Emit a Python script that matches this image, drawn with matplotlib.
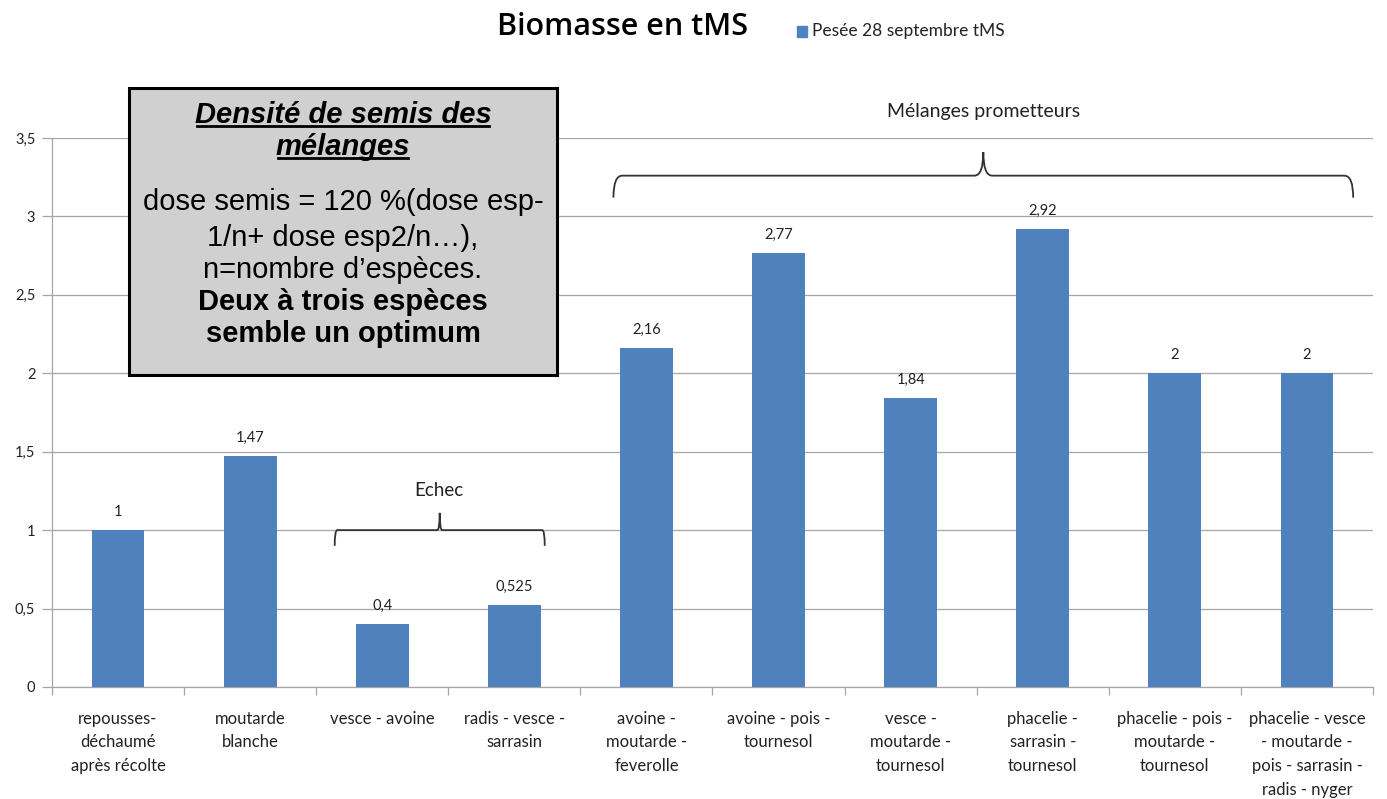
import matplotlib
matplotlib.use("Agg")
import matplotlib.pyplot as plt
from matplotlib.path import Path
from matplotlib.patches import PathPatch, Rectangle
import numpy as np

categories = [
    "repousses-\ndéchaumé\naprès récolte",
    "moutarde\nblanche",
    "vesce - avoine",
    "radis - vesce -\nsarrasin",
    "avoine -\nmoutarde -\nfeverolle",
    "avoine - pois -\ntournesol",
    "vesce -\nmoutarde -\ntournesol",
    "phacelie -\nsarrasin -\ntournesol",
    "phacelie - pois -\nmoutarde -\ntournesol",
    "phacelie - vesce\n- moutarde -\npois - sarrasin -\nradis - nyger",
]
values = [1.0, 1.47, 0.4, 0.525, 2.16, 2.77, 1.84, 2.92, 2.0, 2.0]
value_labels = ["1", "1,47", "0,4", "0,525", "2,16", "2,77", "1,84", "2,92", "2", "2"]
yticks = [0, 0.5, 1, 1.5, 2, 2.5, 3, 3.5]
ytick_labels = ["0", "0,5", "1", "1,5", "2", "2,5", "3", "3,5"]
series_name = "Pesée 28 septembre tMS"
title = "Biomasse en tMS"

BAR = "#4F81BD"
GRID = "#A6A6A6"
LBL = "Lato"

fig = plt.figure(figsize=(13.87, 7.99), dpi=100)
ax = fig.add_axes([52 / 1387, 112 / 799, 1321 / 1387, 549 / 799])

x = np.arange(len(values))
ax.bar(x, values, width=0.4, color=BAR, zorder=3)
ax.set_xlim(-0.5, len(values) - 0.5)
ax.set_ylim(0, 3.5)

ax.set_yticks(yticks)
ax.set_yticklabels(ytick_labels, fontsize=10.5, family=LBL, color="#222222")
ax.yaxis.grid(True, color=GRID, linewidth=0.9, zorder=0)
ax.tick_params(axis="y", length=7, width=0.9, color=GRID, pad=5)

ax.set_xticks(x)
ax.set_xticklabels(categories, fontsize=12, family=LBL, color="#222222", linespacing=1.6)
ax.tick_params(axis="x", length=0, pad=17)
ax.set_xticks(np.arange(-0.5, len(values)), minor=True)
ax.tick_params(axis="x", which="minor", length=6, width=0.9, color=GRID)

for s in ["top", "right"]:
    ax.spines[s].set_visible(False)
for s in ["left", "bottom"]:
    ax.spines[s].set_color(GRID)
    ax.spines[s].set_linewidth(0.9)

for xi, v, lab in zip(x, values, value_labels):
    ax.annotate(lab, (xi, v), xytext=(0, 8), textcoords="offset points",
                ha="center", va="bottom", fontsize=10.5, family=LBL, color="#222222")

# title and legend
fig.text(623 / 1387, 1 - 27 / 799, title, ha="center", va="center",
         fontsize=22, fontweight="semibold", family="Open Sans")
fig.patches.append(Rectangle((797 / 1387, 1 - 37 / 799), 10 / 1387, 11 / 799,
                             transform=fig.transFigure, color=BAR))
fig.text(812 / 1387, 1 - 31 / 799, series_name, ha="left", va="center",
         fontsize=12.5, family=LBL, color="#222222")


def brace(ax, x0, x1, y, drop, rise, lw=1.3):
    xm = (x0 + x1) / 2
    r = (x1 - x0) * 0.012
    verts = [(x0, y - drop), (x0, y), (x0 + r, y),
             (xm - r, y), (xm, y), (xm, y + rise),
             (xm, y), (xm + r, y),
             (x1 - r, y), (x1, y), (x1, y - drop)]
    codes = [Path.MOVETO, Path.CURVE3, Path.CURVE3,
             Path.LINETO, Path.CURVE3, Path.CURVE3,
             Path.CURVE3, Path.CURVE3,
             Path.LINETO, Path.CURVE3, Path.CURVE3]
    ax.add_patch(PathPatch(Path(verts, codes), fill=False, edgecolor="#333333",
                           lw=lw, clip_on=False, zorder=4))


brace(ax, 1.64, 3.23, 1.0, 0.1, 0.11)
ax.text(2.43, 1.255, "Echec", ha="center", va="center", fontsize=13.5, family=LBL, color="#222222")
brace(ax, 3.75, 9.35, 3.26, 0.14, 0.15)
ax.text(6.55, 3.67, "Mélanges prometteurs", ha="center", va="center", fontsize=14,
        family=LBL, color="#222222", clip_on=False)

# text box
bx0, by0, bx1, by1 = 129 / 1387, 1 - 375 / 799, 557 / 1387, 1 - 88 / 799
fig.patches.append(Rectangle((bx0, by0), bx1 - bx0, by1 - by0, transform=fig.transFigure,
                             facecolor="#D0D0D0", edgecolor="black", linewidth=2.2, zorder=10))
cx = (bx0 + bx1) / 2
AR = "Liberation Sans"
t1 = fig.text(cx, 1 - 115 / 799, "Densité de semis des", ha="center", va="center",
              fontsize=21, fontweight="bold", fontstyle="italic", family=AR, zorder=11)
t2 = fig.text(cx, 1 - 147 / 799, "mélanges", ha="center", va="center",
              fontsize=21, fontweight="bold", fontstyle="italic", family=AR, zorder=11)
body = ["dose semis = 120 %(dose esp-", "1/n+ dose esp2/n…),", "n=nombre d’espèces."]
ys = [202, 238, 270]
for line, yy in zip(body, ys):
    fig.text(cx, 1 - yy / 799, line, ha="center", va="center", fontsize=21, family=AR, zorder=11)
for line, yy in zip(["Deux à trois espèces", "semble un optimum"], [302, 334]):
    fig.text(cx, 1 - yy / 799, line, ha="center", va="center", fontsize=21,
             fontweight="bold", family=AR, zorder=11)

fig.canvas.draw()
r = fig.canvas.get_renderer()
inv = fig.transFigure.inverted()
for t in (t1, t2):
    bb = t.get_window_extent(r)
    (ax0, ay0), (ax1, _) = inv.transform([(bb.x0, bb.y0), (bb.x1, bb.y1)])
    yline = ay0 + 3 / 799
    fig.add_artist(plt.Line2D([ax0 + 2 / 1387, ax1 - 2 / 1387], [yline, yline],
                              transform=fig.transFigure, color="black", lw=2, zorder=11))

fig.savefig("out.png", dpi=100, facecolor="white")
